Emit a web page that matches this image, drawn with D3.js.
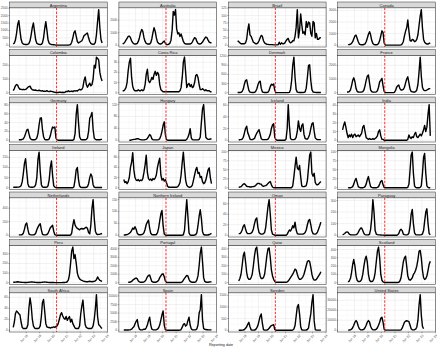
<!DOCTYPE html>
<html><head><meta charset="utf-8">
<script src="https://cdn.jsdelivr.net/npm/d3@7"></script>
<style>body{margin:0;background:#fff}svg{display:block}</style></head>
<body><svg id="c" width="440" height="348"></svg>
<script>
const countries = ["Argentina","Australia","Brazil","Canada","Colombia","Costa Rica","Denmark","France",
  "Germany","Hungary","Iceland","India","Ireland","Japan","Mexico","Mongolia",
  "Netherlands","Northern Ireland","Oman","Paraguay","Peru","Portugal","Qatar","Scotland",
  "South Africa","Spain","Sweden","United States"];
const yTickValues = [
  [0,500,1000,1500,2000,2500],[0,1000,2000],[0,25,50,75,100,125],[0,1000,2000,3000],
  [0,100,200],[0,10,20,30],[0,300,600,900,1200],[0,1000,2000],
  [0,20,40,60,80],[0,40,80,120],[0,20,40,60],[0,10,20,30,40],
  [0,50,100,150],[0,20,40,60],[0,25,50,75,100],[0,25,50,75,100],
  [0,200,400],[0,50,100,150],[0,20,40,60],[0,100,200,300],
  [0,100,200,300],[0,1000,2000,3000,4000],[0,100,200,300,400],[0,100,200,300,400],
  [0,20,40,60],[0,2500,5000,7500,10000],[0,500,1000,1500],[0,10000,20000,30000]];
const firstMonth = "2017-01-15";   // monthly observations start here
const xTickDates = ["2018-01-01","2019-01-01","2020-01-01","2021-01-01","2022-01-01","2023-01-01","2024-01-01"];
const xDomain = ["2016-10-06","2024-01-03"];
const covidDate = "2020-04-01";
const _ = null;

const ARG=[80,150,350,800,1400,1660,1000,400,150,80, 60,50,50,60,120,300,700,1200,1500,900, 350,130,80,60,50,60,150,500,1100,1590, 1000,350,130,70,50,40,30,20,10,5, 5,5,5,5,5,5,5,5,5,10, 20,50,200,500,850,975,600,250,150,200, 250,300,450,650,700,780,820,500,250,120, 80,60,80,200,700,1600,2410,1200,400,150];
const AUS=[100,150,250,400,550,700,730,600,350,200, 120,100,100,150,300,600,1000,1260,1100,600, 300,150,100,100,100,200,500,1000,1390,1100, 600,250,150,100,100,150,250,340,150,50, 50,80,150,400,1200,2700,2400,2840,1300,900, 1000,700,900,600,300,150,100,100,100,100, 100,150,250,450,600,550,300,150,100,100, 150,250,400,550,650,600,400,250,200,200];
const BRA=[_,_,_,_,_,15,12,8,5,5, 5,5,8,20,50,72,35,30,20,10, 8,5,5,8,15,25,33,30,15,8, 5,3,3,2,2,2,2,1,1,1, 1,2,10,3,8,5,5,8,15,20, 23,12,8,10,15,15,30,60,120,25, 50,105,70,40,45,35,80,60,78,75, 40,30,80,75,25,40,20,20,25,25];
const CAN=[_,_,_,_,_,_,50,60,80,150, 300,550,800,870,600,300,100,50,40,40, 60,120,300,600,950,1160,900,400,150,60, 40,40,60,150,400,800,1240,1100,200,20, 10,10,10,10,10,10,10,10,10,10, 10,10,10,30,100,300,800,1200,1500,2170, 1200,400,350,500,450,300,350,500,900,1700, 2500,3070,1500,500,250,150,100,100,150,200];
const COL=[15,30,50,60,55,35,25,25,22,25, 22,25,30,40,45,48,30,22,20,18, 20,15,15,18,15,12,15,10,12,10, 15,10,8,12,10,8,5,3,2,2, 2,3,3,2,3,2,3,10,8,15, 8,10,12,8,15,12,15,12,20,25, 20,25,40,90,115,60,40,55,70,50, 60,100,200,180,260,250,240,150,110,85];
const CRI=[2,2,3,5,10,22,30,34,15,6, 3,2,2,2,3,2,2,3,2,3, 8,18,23,12,10,12,15,13,18,21, 17,20,18,8,3,2,1,1,1,1, 1,1,1,1,1,1,1,1,1,1, 1,2,5,15,30,35,20,5,8,9, 6,8,5,6,10,17,18,15,8,3, 3,4,3,2,3,2,2,2,1,1];
const DNK=[_,_,_,_,_,5,5,5,10,40, 120,280,400,425,250,80,20,10,5,5, 10,40,120,250,350,380,150,30,10,5, 5,5,20,80,200,280,250,290,80,5, 2,2,2,2,2,2,2,2,2,2, 2,10,100,400,900,1170,500,100,20,10, 5,5,5,5,10,30,150,500,900,915, 400,100,30,15,10,5,5,5,5,5];
const FRA=[_,_,_,_,_,50,50,80,200,500, 900,1090,800,300,100,50,40,40,50,80, 200,500,900,1200,1290,700,200,80,40,40, 40,60,150,400,800,900,1040,500,100,20, 10,10,10,10,10,10,10,30,150,400, 500,560,300,200,200,250,400,700,1000,1160, 700,250,100,60,50,50,80,200,600,1500, 2600,1200,400,200,150,150,200,250,300,300];
const DEU=[_,_,_,_,_,1,1,1,2,3, 8,15,23,25,15,5,2,1,1,1, 2,5,15,35,50,51,25,8,2,1, 1,1,3,10,22,30,28,30,5,1, 0,0,0,0,0,0,0,0,0,0, 0,0,0,0,2,15,60,81,40,8, 2,1,1,1,1,2,5,20,50,55, 63,25,5,2,1,1,1,1,2,2];
const HUN=[_,_,_,_,_,_,0,0,1,2, 3,3,4,5,5,3,2,1,1,1, 2,3,6,12,19,15,5,2,1,1, 1,1,2,5,15,30,50,62,20,2, 0,0,0,0,0,0,0,0,0,0, 0,0,0,0,0,0,0,3,10,20, 39,8,2,1,1,1,1,1,3,10, 60,105,120,60,10,5,3,3,4,5];
const ISL=[_,_,_,_,_,_,0,1,1,2, 5,12,20,24,13,8,2,1,1,2, 3,8,12,15,18,10,3,1,1,1, 1,1,2,5,10,20,26,28,5,1, 0,0,0,0,0,0,0,0,2,20, 61,25,3,1,1,1,2,5,15,33, 20,15,25,28,10,3,2,2,5,10, 20,28,30,15,4,2,1,1,1,1];
const IND=[_,12,17,21,15,8,3,6,4,7, 3,6,7,4,5,6,4,6,8,15, 17,10,3,2,1,2,1,1,2,1, 2,3,5,10,12,5,1,1,0,0, 0,0,0,0,0,0,0,0,0,0, 0,0,0,0,0,0,0,0,0,1, 6,3,2,4,3,7,9,4,3,5, 7,5,8,12,17,10,15,30,41,5];
const IRL=[2,2,2,2,3,3,5,10,30,70, 120,143,80,20,5,3,2,2,3,5, 15,50,140,176,80,15,4,2,2,2, 3,10,40,100,132,60,10,3,1,0, 0,0,0,0,0,0,0,0,0,0, 0,0,0,0,5,40,90,100,40,8, 2,1,1,1,1,2,5,20,50,68, 55,15,3,1,1,1,1,1,1,1];
const JPN=[_,16,10,12,8,12,20,40,50,69, 35,20,15,14,16,13,15,14,18,30, 45,64,30,18,15,17,14,18,16,19, 25,40,50,58,25,15,18,13,16,10, 3,1,1,1,1,1,1,1,1,2, 5,10,25,50,70,40,15,5,2,1, 1,2,5,15,25,35,40,28,30,20, 22,12,8,10,15,25,35,39,20,8];
const MEX=[_,_,_,_,_,_,1,2,3,6, 10,11,8,4,3,3,2,2,3,3, 4,6,10,12,12,10,10,5,4,5, 6,8,12,15,17,8,2,0,0,0, 0,0,0,0,0,0,0,0,0,0, 0,0,0,0,5,30,60,85,55,50, 62,30,5,3,3,4,6,20,55,90, 99,40,32,40,15,9,8,10,14,17];
const MNG=[_,_,_,_,_,_,0,0,0,1, 3,10,20,26,15,3,1,0,0,0, 1,3,10,22,31,15,3,1,0,0, 0,0,1,3,10,18,20,8,1,0, 0,0,0,0,0,0,0,0,0,0, 0,0,0,0,0,0,0,0,0,1, 10,50,90,99,40,5,1,0,0,0, 1,5,40,85,95,40,5,1,0,0];
const NLD=[_,_,_,_,_,5,5,5,10,30, 90,160,180,90,20,8,5,5,5,10, 30,80,120,150,170,80,15,5,5,5, 10,30,70,110,130,146,60,8,2,0, 0,0,0,0,0,0,0,0,0,0, 0,2,30,150,230,150,120,100,90,80, 95,100,90,95,110,120,100,40,20,150, 400,527,250,60,20,10,12,15,20,25];
const NIR=[_,1,1,2,3,5,8,12,20,30, 25,36,25,8,3,2,2,3,5,10, 25,45,55,64,30,8,3,2,2,2, 3,10,30,60,90,104,40,5,1,0, 0,0,0,0,0,0,0,0,0,0, 0,0,0,0,2,20,90,150,80,10, 1,0,0,0,1,3,10,40,80,107, 70,15,3,1,1,1,1,3,5,8];
const OMN=[_,_,_,_,_,_,3,3,5,10, 17,20,12,5,3,3,3,4,6,12, 22,30,33,15,5,3,2,2,3,5, 15,35,55,68,40,10,2,1,0,0, 0,0,0,0,0,0,0,0,0,2, 6,10,8,12,18,14,25,10,3,2, 2,2,2,2,3,5,10,20,28,30, 20,8,3,2,2,3,6,12,18,25];
const PRY=[_,5,8,15,25,29,25,10,4,3, 3,3,3,5,10,25,45,60,63,40, 15,5,3,3,3,10,50,150,308,200, 40,10,5,3,3,2,1,1,0,0, 0,0,0,0,0,0,0,0,0,0, 3,15,40,51,40,10,5,3,3,5, 20,80,180,223,100,20,5,3,3,3, 3,5,10,40,120,200,228,100,15,5];
const PER=[5,5,6,8,10,8,6,5,4,4, 3,3,3,4,5,6,8,7,6,5, 4,3,3,3,3,4,5,6,7,6, 5,4,3,3,3,2,2,1,1,1, 1,1,1,1,2,2,3,5,10,30, 80,200,330,370,250,290,200,100,60,40, 30,25,20,15,12,10,10,12,15,12, 10,12,15,20,30,60,40,25,20,15];
const PRT=[_,_,_,_,_,50,50,80,150,300, 400,500,550,450,200,100,60,50,60,100, 200,400,700,850,900,500,150,80,60,60, 80,150,300,600,800,1000,1050,700,200,50, 20,20,20,20,20,20,20,20,20,20, 20,20,30,100,300,500,700,850,800,400, 150,80,50,50,60,100,300,800,2000,3500, 4200,2500,600,150,80,60,60,80,100,120];
const QAT=[_,_,_,_,_,_,20,50,100,200, 320,360,250,120,60,40,40,60,100,200, 320,400,420,300,150,80,50,50,60,100, 200,320,400,410,300,150,80,40,15,5, 5,5,5,5,5,5,5,5,5,10, 20,40,60,80,100,130,160,150,100,60, 40,40,50,70,100,150,200,250,260,250, 180,100,50,30,30,40,60,80,100,130];
const SCO=[_,_,_,_,_,_,10,20,50,120, 220,280,200,80,30,15,15,20,40,100, 200,280,320,250,100,30,15,15,20,50, 120,250,380,430,300,100,30,10,5,3, 3,3,3,3,3,3,3,3,3,3, 3,5,20,60,150,250,300,320,200,80, 40,30,40,60,100,120,150,200,280,380, 390,300,150,60,40,50,80,150,220,260];
const ZAF=[5,15,30,35,33,30,28,15,5,3, 3,3,4,10,40,59,45,20,8,4, 3,3,3,4,8,25,50,56,35,12, 6,5,5,4,5,5,6,5,7,8, 12,20,28,32,26,22,20,25,18,22, 25,15,20,12,8,4,3,3,3,8, 30,45,55,30,10,5,4,3,3,3, 4,8,20,40,65,25,10,8,5,3];
const ESP=[_,50,50,50,50,80,100,150,300,700, 1000,1800,2600,3100,1200,300,100,100,150,300, 300,700,1500,2800,3800,1500,300,150,100,100, 150,300,700,1500,3000,4500,5600,1500,200,20, 10,10,10,10,10,10,10,10,10,10, 10,30,200,900,1700,1900,1200,1500,2800,3800, 1500,400,150,100,100,150,400,1500,5000,6000, 10400,3000,500,250,200,150,120,100,100,100];
const SWE=[_,_,_,_,_,_,0,0,0,5, 10,30,80,150,250,340,150,20,5,5, 10,30,100,200,400,600,700,300,30,5, 5,10,30,80,150,200,220,240,30,0, 0,0,0,0,0,0,0,0,0,0, 0,0,0,0,10,50,200,600,1000,1100, 700,150,20,5,5,5,10,30,100,400, 700,1200,1530,400,30,5,3,2,2,2];
const USA=[_,_,_,_,_,_,100,200,400,1000, 2500,5000,8000,9700,8000,4000,1500,500,300,400, 1000,2500,5000,8000,9700,8000,4000,1500,500,300, 400,1000,2500,5000,8000,12000,13000,8000,1000,100, 50,50,50,50,50,50,50,50,50,50, 50,50,50,300,2000,5000,8000,9000,9500,9000, 8500,5000,1500,500,300,500,1000,3000,10000,25000, 35700,15000,4000,1500,_,_,_,_,_,_];

const seriesValues = [ARG,AUS,BRA,CAN,COL,CRI,DNK,FRA,DEU,HUN,ISL,IND,IRL,JPN,MEX,MNG,
  NLD,NIR,OMN,PRY,PER,PRT,QAT,SCO,ZAF,ESP,SWE,USA];

// ---- layout ----
const W = 440, H = 348;
const nCols = 4, nRows = 7;
const colX0 = 9.5, colStep = 109.4, panelW = 97.8;
const rowY0 = 2, rowStep = 47.5, stripH = 5.8, panelH = 39.2;
const font = "'Liberation Sans', Arial, sans-serif";

const parse = d3.utcParse("%Y-%m-%d");
const start = parse(firstMonth);
const months = d3.range(80).map(i => d3.utcMonth.offset(start, i));
const x = d3.scaleUtc().domain(xDomain.map(parse)).range([0, panelW]);
const xTicks = xTickDates.map(parse);
const xMinor = d3.range(xTicks.length + 1).map(i => d3.utcMonth.offset(parse("2017-07-01"), 12 * i))
  .filter(d => d >= x.domain()[0] && d <= x.domain()[1]);
const fmt = d3.utcFormat("%b %y");

const svg = d3.select("#c");
svg.append("rect").attr("width", W).attr("height", H).attr("fill", "#fff");

countries.forEach((name, k) => {
  const c = k % nCols, r = Math.floor(k / nCols);
  const g = svg.append("g").attr("transform", `translate(${colX0 + c * colStep},${rowY0 + r * rowStep})`);
  const vals = seriesValues[k];
  const defined = vals.filter(v => v != null);
  const lo = Math.min(0, d3.min(defined)), hi = d3.max(defined);
  const pad = (hi - lo) * 0.05;
  const y = d3.scaleLinear().domain([lo - pad, hi + pad]).range([stripH + panelH, stripH]);
  const ticks = yTickValues[k];

  g.append("rect").attr("x", 0).attr("y", stripH).attr("width", panelW).attr("height", panelH).attr("fill", "#fff");
  const yMinor = ticks.slice(0, -1).map((t, i) => (t + ticks[i + 1]) / 2);
  if (ticks.length > 1) yMinor.push(ticks[ticks.length - 1] + (ticks[1] - ticks[0]) / 2);
  g.selectAll(".ym").data(yMinor.filter(v => y(v) > stripH && y(v) < stripH + panelH)).join("line")
    .attr("x1", 0).attr("x2", panelW).attr("y1", d => y(d)).attr("y2", d => y(d))
    .attr("stroke", "#f0f0f0").attr("stroke-width", 0.3);
  g.selectAll(".xm").data(xMinor).join("line")
    .attr("x1", d => x(d)).attr("x2", d => x(d)).attr("y1", stripH).attr("y2", stripH + panelH)
    .attr("stroke", "#f0f0f0").attr("stroke-width", 0.3);
  g.selectAll(".yg").data(ticks).join("line")
    .attr("x1", 0).attr("x2", panelW).attr("y1", d => y(d)).attr("y2", d => y(d))
    .attr("stroke", "#e3e3e3").attr("stroke-width", 0.45);
  g.selectAll(".xg").data(xTicks).join("line")
    .attr("x1", d => x(d)).attr("x2", d => x(d)).attr("y1", stripH).attr("y2", stripH + panelH)
    .attr("stroke", "#e3e3e3").attr("stroke-width", 0.45);

  const line = d3.line().defined(d => d.v != null).x(d => x(d.t)).y(d => y(d.v)).curve(d3.curveLinear);
  g.append("path").datum(months.map((t, i) => ({ t, v: vals[i] })))
    .attr("d", line).attr("fill", "none").attr("stroke", "#000").attr("stroke-width", 1.4)
    .attr("stroke-linejoin", "round");

  g.append("line").attr("x1", x(parse(covidDate))).attr("x2", x(parse(covidDate)))
    .attr("y1", stripH).attr("y2", stripH + panelH)
    .attr("stroke", "#ff2a2a").attr("stroke-width", 1).attr("stroke-dasharray", "2.4,1.4");

  g.append("rect").attr("x", 0).attr("y", stripH).attr("width", panelW).attr("height", panelH)
    .attr("fill", "none").attr("stroke", "#333").attr("stroke-width", 0.55);

  g.append("rect").attr("x", 0).attr("y", 0).attr("width", panelW).attr("height", stripH)
    .attr("fill", "#d9d9d9").attr("stroke", "#333").attr("stroke-width", 0.5);
  g.append("text").attr("x", panelW / 2).attr("y", stripH / 2 + 0.1).attr("text-anchor", "middle")
    .attr("dominant-baseline", "central").attr("font-family", font).attr("font-size", 4)
    .attr("fill", "#1a1a1a").text(name);

  g.selectAll(".yt").data(ticks).join("line")
    .attr("x1", -1.2).attr("x2", 0).attr("y1", d => y(d)).attr("y2", d => y(d))
    .attr("stroke", "#333").attr("stroke-width", 0.4);
  g.selectAll(".yl").data(ticks).join("text")
    .attr("x", -1.8).attr("y", d => y(d)).attr("text-anchor", "end").attr("dominant-baseline", "central")
    .attr("font-family", font).attr("font-size", 3.1).attr("fill", "#4d4d4d").text(d => d);

  if (r === nRows - 1) {
    const yb = stripH + panelH;
    g.selectAll(".xt").data(xTicks).join("line")
      .attr("x1", d => x(d)).attr("x2", d => x(d)).attr("y1", yb).attr("y2", yb + 1.2)
      .attr("stroke", "#333").attr("stroke-width", 0.4);
    g.selectAll(".xl").data(xTicks).join("text")
      .attr("transform", d => `translate(${x(d)},${yb + 2.2}) rotate(-45)`)
      .attr("text-anchor", "end").attr("dominant-baseline", "hanging")
      .attr("font-family", font).attr("font-size", 3.1).attr("fill", "#4d4d4d").text(d => fmt(d));
  }
});

svg.append("text").attr("x", 221).attr("y", 345.5).attr("text-anchor", "middle")
  .attr("font-family", font).attr("font-size", 3.7).attr("fill", "#1a1a1a").text("Reporting date");
</script></body></html>
